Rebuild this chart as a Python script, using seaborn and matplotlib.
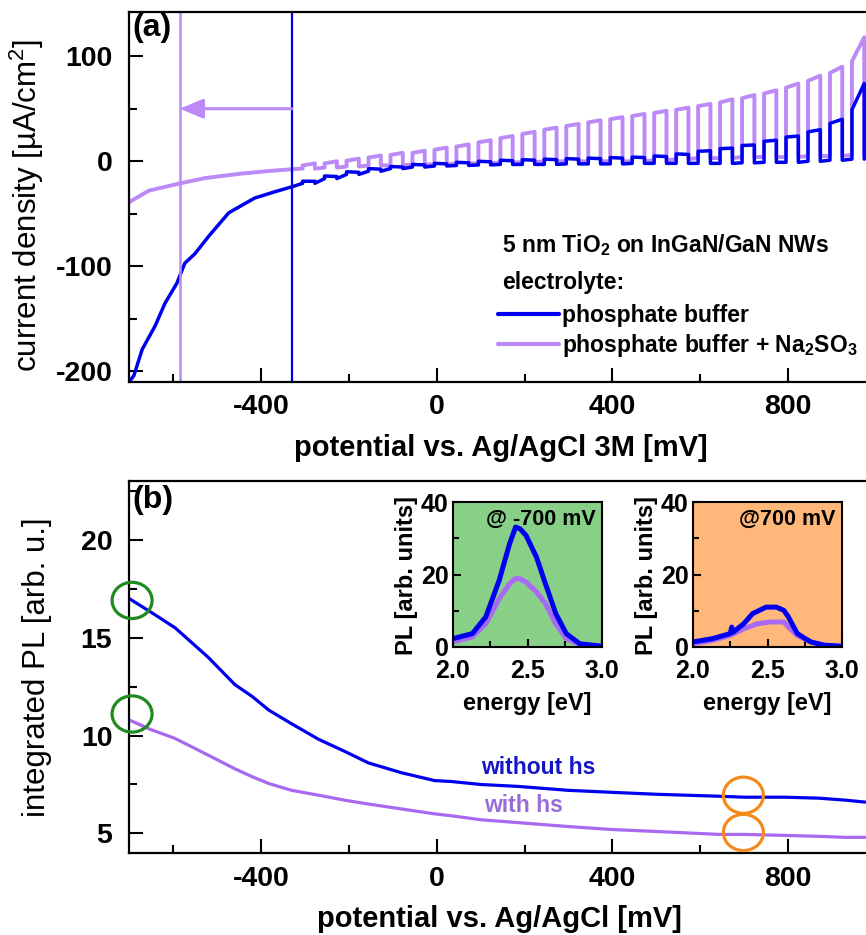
import matplotlib
matplotlib.use("Agg")
import matplotlib.pyplot as plt
import seaborn as sns
from matplotlib.patches import Ellipse
from matplotlib.ticker import MultipleLocator

# ---------------- data: panel (a) chopped-light voltammetry ----------------
blue_pre_x = [-700, -689, -670, -641, -618, -591, -573, -550, -518, -473, -414, -368, -327]
blue_pre_y = [-210, -204, -179, -157, -135, -116, -97, -88, -71, -49, -35, -29, -24]
purple_pre_x = [-700, -655, -584, -527, -450, -375, -327]
purple_pre_y = [-39, -28, -21, -16, -12, -9, -7.5]

pulse_onset = [-305, -255, -205, -155, -105, -55, -5, 45, 95, 145, 195, 245, 295,
               345, 395, 445, 495, 545, 595, 645, 695, 745, 795, 845, 895, 945]
pulse_width = 28  # mV of illumination per chop period

blue_dark = [-21, -16.5, -12.5, -9.5, -7, -5.5, -4.5, -4, -3.5, -3, -3, -3, -2.5,
             -2.5, -2.5, -2, -2, -2, -2, -2, -1.5, -1, -1, 0, 1, 2]
blue_light_on = [-19, -14, -10, -7, -5, -3, -2, -1, 0, 1, 1.5, 2, 2.5,
                 3, 3.5, 4, 5, 7, 9.5, 12, 15, 19, 23, 28, 36, 49]
blue_light_off = [-19, -14.5, -10.5, -7.5, -5.5, -3.5, -2.5, -1.5, -0.5, 0.5, 1, 1.5, 2,
                  2.5, 3, 3.5, 4.5, 6.5, 10, 12.5, 15.5, 20, 24, 30, 40, 74]
purple_dark = [-7, -6, -5, -4, -4, -3, -3, -2, -2, -1, -1, 0, 0,
               0, 0, 0, 1, 2, 3, 3, 4, 4, 4, 5, 5, 6]
purple_light_on = [-4, -2, 0.5, 3.5, 6, 8, 11, 14, 18, 22, 26, 30, 33.5,
                   37, 40, 43, 46, 49, 52.5, 56, 60, 64.5, 70, 76.5, 84, 95]
purple_light_off = [-2, 0, 2.5, 5.5, 8, 10, 13, 16, 20, 24, 28, 32, 35.5,
                    39, 42, 45, 48, 51, 54.5, 59, 63, 67.5, 74, 81.5, 90, 118]

onset_potential_buffer = -330      # mV, blue marker line
onset_potential_sulfite = -585     # mV, purple marker line

# ---------------- data: panel (b) integrated PL ----------------
pl_x = [-700, -650, -595, -520, -459, -420, -382, -330, -268, -210, -155, -80, -5,
        34, 100, 186, 300, 398, 500, 641, 700, 791, 870, 930, 975]
pl_without_hs = [17.0, 16.3, 15.5, 14.0, 12.6, 12.0, 11.3, 10.6, 9.8, 9.2, 8.6, 8.1, 7.7,
                 7.65, 7.5, 7.4, 7.2, 7.1, 7.0, 6.9, 6.85, 6.85, 6.8, 6.7, 6.6]
pl_with_hs = [10.8, 10.3, 9.85, 9.0, 8.3, 7.9, 7.55, 7.2, 6.95, 6.7, 6.5, 6.25, 6.0,
              5.9, 5.7, 5.55, 5.35, 5.2, 5.1, 4.95, 4.95, 4.9, 4.85, 4.8, 4.8]

# ---------------- data: inset spectra ----------------
e1 = [2.0, 2.13, 2.22, 2.31, 2.38, 2.42, 2.45, 2.49, 2.56, 2.62, 2.69, 2.76, 2.85, 3.0]
spec1_without = [2.3, 3.7, 8.3, 18.4, 28.5, 33.1, 32.6, 30.8, 24.8, 17.5, 9.2, 3.7, 0.9, 0.2]
spec1_with = [1.4, 2.8, 6.4, 13.3, 17.5, 18.9, 18.8, 17.9, 15.2, 12.0, 6.4, 2.3, 0.7, 0.2]
e2_without = [2.0, 2.13, 2.25, 2.26, 2.27, 2.34, 2.40, 2.49, 2.56, 2.61, 2.64, 2.70, 2.79, 2.88, 3.0]
spec2_without = [1.4, 2.3, 3.7, 5.5, 4.1, 6.4, 9.2, 11.0, 11.0, 10.1, 8.3, 3.7, 1.4, 0.5, 0.2]
e2_with = [2.0, 2.13, 2.25, 2.34, 2.43, 2.52, 2.61, 2.64, 2.70, 2.79, 2.88, 3.0]
spec2_with = [0.9, 1.8, 3.2, 5.0, 6.4, 6.9, 6.9, 5.5, 3.2, 1.4, 0.5, 0.2]

main_xticks = [-400, 0, 400, 800]

# ---------------- style ----------------
sns.set_theme(style="ticks")
plt.rcParams.update({
    "font.family": ["Liberation Sans", "DejaVu Sans"],
    "mathtext.fontset": "custom",
    "mathtext.rm": "Liberation Sans",
    "mathtext.bf": "Liberation Sans:bold",
    "mathtext.default": "regular",
    "axes.unicode_minus": False,
    "text.color": "black",
    "axes.labelcolor": "black",
    "xtick.color": "black",
    "ytick.color": "black",
    "axes.edgecolor": "black",
})

BLUE = "#0000f0"
PURPLE_A = "#bb8af7"
PURPLE_B = "#a968f0"
PURPLE_I = "#a86af5"
GREEN_BG = "#88d088"
ORANGE_BG = "#ffb87a"
W, H = 866, 935

fig = plt.figure(figsize=(W / 100, H / 100), dpi=100)
axA = fig.add_axes([129 / W, 1 - 382 / H, 737 / W, 370 / H])
axB = fig.add_axes([129 / W, 1 - 853 / H, 737 / W, 372 / H])


def chop_trace(pre_x, pre_y, onset, dark, on, off, width):
    xs, ys = list(pre_x), list(pre_y)
    for s, d, a, b in zip(onset, dark, on, off):
        xs += [s, s, s + width, s + width]
        ys += [d, a, b, d]
    return xs, ys


def style_main(ax, yt, ylabels, ymin_loc):
    for s in ["left", "bottom", "top"]:
        ax.spines[s].set_linewidth(1.6)
        ax.spines[s].set_color("black")
    ax.spines["right"].set_visible(False)
    ax.set_xticks(main_xticks, labels=[str(v) for v in main_xticks],
                  fontweight="bold", fontsize=20.5)
    ax.set_yticks(yt, labels=ylabels, fontweight="bold", fontsize=20.5)
    ax.xaxis.set_minor_locator(MultipleLocator(200))
    ax.yaxis.set_minor_locator(MultipleLocator(ymin_loc))
    ax.tick_params(which="both", direction="in", width=1.5, color="black",
                   top=False, right=False, labelcolor="black")
    ax.tick_params(which="major", length=10)
    ax.tick_params(which="minor", length=6)
    ax.tick_params(axis="x", which="major", pad=9)
    ax.tick_params(axis="y", which="major", pad=12)
    ax.grid(False)


# ---------------- panel (a) ----------------
pxs, pys = chop_trace(purple_pre_x, purple_pre_y, pulse_onset, purple_dark,
                      purple_light_on, purple_light_off, pulse_width)
bxs, bys = chop_trace(blue_pre_x, blue_pre_y, pulse_onset, blue_dark,
                      blue_light_on, blue_light_off, pulse_width)
sns.lineplot(x=pxs, y=pys, ax=axA, color=PURPLE_A, lw=2.8, sort=False, estimator=None,
             label="phosphate buffer + Na$_2$SO$_3$")
sns.lineplot(x=bxs, y=bys, ax=axA, color=BLUE, lw=2.5, sort=False, estimator=None,
             label="phosphate buffer")
axA.axvline(onset_potential_buffer, color=BLUE, lw=1.6)
axA.axvline(onset_potential_sulfite, color=PURPLE_A, lw=1.8)
axA.annotate("", xy=(onset_potential_sulfite, 50), xytext=(onset_potential_buffer, 50),
             arrowprops=dict(arrowstyle="-|>,head_length=1.2,head_width=0.5",
                             color=PURPLE_A, lw=2.2, shrinkA=0, shrinkB=0))
axA.set_xlim(-700, 977)
axA.set_ylim(-210, 142)
style_main(axA, [-200, -100, 0, 100], ["-200", "-100", "0", "100"], 50)
axA.set_xlabel("potential vs. Ag/AgCl 3M [mV]", fontsize=21, fontweight="bold")
axA.set_ylabel("current density [µA/cm$^2$]", fontsize=22.5)
axA.xaxis.set_label_coords(0.505, -0.14)
axA.yaxis.set_label_coords(-0.112, 0.478)
axA.text(0.004, 0.997, "(a)", transform=axA.transAxes, fontsize=23, fontweight="bold",
         va="top", ha="left")
axA.text(0.506, 0.370, "5 nm TiO$_2$ on InGaN/GaN NWs", transform=axA.transAxes,
         fontsize=16.5, fontweight="bold", va="center", ha="left")
axA.text(0.506, 0.268, "electrolyte:", transform=axA.transAxes,
         fontsize=16.5, fontweight="bold", va="center", ha="left")
h, l = axA.get_legend_handles_labels()
leg = axA.legend(h[::-1], l[::-1], loc="upper left", bbox_to_anchor=(0.500, 0.212),
                 frameon=False, handlelength=2.7, handletextpad=0.12, labelspacing=0.25,
                 borderaxespad=0, borderpad=0,
                 prop={"weight": "bold", "size": 16.5})
for line in leg.get_lines():
    line.set_linewidth(3)

# ---------------- panel (b) ----------------
sns.lineplot(x=pl_x, y=pl_with_hs, ax=axB, color=PURPLE_B, lw=2.3, sort=False, estimator=None)
sns.lineplot(x=pl_x, y=pl_without_hs, ax=axB, color=BLUE, lw=2.3, sort=False, estimator=None)
axB.set_xlim(-700, 977)
axB.set_ylim(4, 23)
style_main(axB, [5, 10, 15, 20], ["5", "10", "15", "20"], 2.5)
axB.set_xlabel("potential vs. Ag/AgCl [mV]", fontsize=21, fontweight="bold")
axB.set_ylabel("integrated PL [arb. u.]", fontsize=22.5)
axB.xaxis.set_label_coords(0.503, -0.14)
axB.yaxis.set_label_coords(-0.104, 0.5)
axB.text(0.004, 0.99, "(b)", transform=axB.transAxes, fontsize=23, fontweight="bold",
         va="top", ha="left")
axB.text(102, 8.38, "without hs", color="#1515c8", fontsize=16.5, fontweight="bold",
         va="center", ha="left")
axB.text(109, 6.43, "with hs", color="#9a6cd8", fontsize=16.5, fontweight="bold",
         va="center", ha="left")
for (cx, cy, col) in [(-693, 16.9, "#1f8a1f"), (-693, 11.1, "#1f8a1f"),
                      (698, 6.95, "#f28a1c"), (698, 5.05, "#f28a1c")]:
    axB.add_patch(Ellipse((cx, cy), 91, 1.85, fill=False, ec=col, lw=2.3,
                          clip_on=False, zorder=5))

# ---------------- insets ----------------
def make_inset(left, bg, xw, yw, xh, yh, title):
    ax = fig.add_axes([left / W, 1 - 647 / H, 149 / W, 145 / H])
    ax.set_facecolor(bg)
    sns.lineplot(x=xh, y=yh, ax=ax, color=PURPLE_I, lw=3.6, sort=False, estimator=None)
    sns.lineplot(x=xw, y=yw, ax=ax, color=BLUE, lw=3.6, sort=False, estimator=None)
    ax.set_xlim(2.0, 3.0)
    ax.set_ylim(0, 40)
    for s in ax.spines.values():
        s.set_linewidth(1.5)
        s.set_color("black")
        s.set_visible(True)
    ax.set_xticks([2.0, 2.5, 3.0], labels=["2.0", "2.5", "3.0"], fontweight="bold", fontsize=18)
    ax.set_yticks([0, 20, 40], labels=["0", "20", "40"], fontweight="bold", fontsize=18)
    ax.xaxis.set_minor_locator(MultipleLocator(0.25))
    ax.yaxis.set_minor_locator(MultipleLocator(10))
    ax.tick_params(which="both", direction="in", width=1.5, color="black", top=False,
                   right=False, labelcolor="black")
    ax.tick_params(which="major", length=6)
    ax.tick_params(which="minor", length=4)
    ax.tick_params(axis="x", which="major", pad=9)
    ax.tick_params(axis="y", which="major", pad=3)
    ax.set_xlabel("energy [eV]", fontsize=17, fontweight="bold")
    ax.set_ylabel("PL [arb. units]", fontsize=17, fontweight="bold")
    ax.xaxis.set_label_coords(0.5, -0.31)
    ax.yaxis.set_label_coords(-0.235, 0.49)
    ax.text(0.955, 0.95, title, transform=ax.transAxes, fontsize=15.5, fontweight="bold",
            ha="right", va="top")
    ax.grid(False)
    return ax


make_inset(453, GREEN_BG, e1, spec1_without, e1, spec1_with, "@ -700 mV")
make_inset(693, ORANGE_BG, e2_without, spec2_without, e2_with, spec2_with, "@700 mV")

fig.savefig("out.png", dpi=100)
